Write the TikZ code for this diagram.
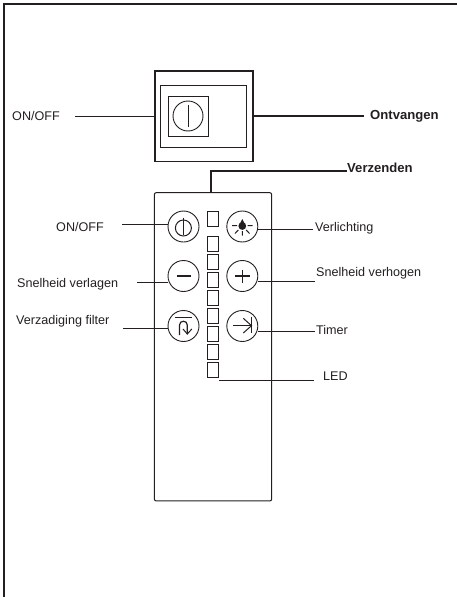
\documentclass[tikz,border=0pt]{standalone}
\usepackage{fontspec}
\setmainfont{Liberation Sans}
\usetikzlibrary{positioning, calc}
\definecolor{Ink}{HTML}{231F20}
\tikzset{
    label/.style={anchor=west, inner sep=0pt, text=Ink, font=\fontsize{12.6}{15}\selectfont},
    boldlabel/.style={label, font=\fontsize{13.1}{15}\selectfont\bfseries},
    button/.style={circle, draw=Ink, line width=0.9pt, inner sep=0pt, minimum size=31pt},
    ledbox/.style={rectangle, draw=Ink, line width=0.9pt, inner sep=0pt, minimum width=11.4pt, minimum height=15.2pt},
    thin line/.style={draw=Ink, line width=0.9pt},
    heavy line/.style={draw=Ink, line width=2pt},
    glyph/.style={draw=Ink, line width=1pt},
}

\begin{document}
\begin{tikzpicture}[x=1pt, y=-1pt]
        \useasboundingbox (0,0) rectangle (457,597);

        % --- Page frame ---
        \draw[draw=Ink, line width=2pt] (457,4) -- (3.7,4) -- (3.7,597);

        % --- Receiver ---
        \node[draw=Ink, line width=1.8pt, inner sep=0pt, minimum width=98.5pt, minimum height=90.5pt] (recv) at (204,116.3) {};
        \node[draw=Ink, line width=1pt, inner sep=0pt, minimum width=86pt, minimum height=61.5pt] (panel) at (203.7,116.5) {};
        \node[draw=Ink, line width=1pt, inner sep=0pt, minimum size=40pt] (switch) at (188.2,116.7) {};
        \node[circle, draw=Ink, line width=0.9pt, inner sep=0pt, minimum size=30pt] (dial) at (188,116) {};
        \draw[glyph] (188,105) -- (188,127);

        % --- Remote body ---
        \node[draw=Ink, line width=1pt, rounded corners=2pt, inner sep=0pt, minimum width=117.4pt, minimum height=308.3pt] (remote) at (213,346.8) {};

        % --- Buttons ---
        \node[button] (power)  at (183.5,226.5) {};
        \node[button] (light)  at (242.3,226.5) {};
        \node[button] (minus)  at (183.5,276) {};
        \node[button] (plus)   at (242.3,276) {};
        \node[button] (filter) at (183.5,326) {};
        \node[button] (timer)  at (242.3,326) {};

        % --- LEDs ---
        \node[ledbox] (led1) at (213,219) {};
        \node[ledbox] (led2) at (213,244.2) {};
        \node[ledbox] (led3) at (213,262) {};
        \node[ledbox] (led4) at (213,280) {};
        \node[ledbox] (led5) at (213,298) {};
        \node[ledbox] (led6) at (213,316) {};
        \node[ledbox] (led7) at (213,334) {};
        \node[ledbox] (led8) at (213,352) {};
        \node[ledbox] (led9) at (213,370) {};

        % Icons
        \draw[glyph] (183.4,228) circle (8);
        \draw[glyph] (183.4,217.5) -- (183.4,235);

        \fill[Ink] (242.3,226) circle (3.9);
        \fill[Ink] (240,223.5) -- (242.3,219) -- (244.6,223.5) -- cycle;
        \draw[glyph] (232,225.5) -- (237,225.5) (247.5,225.5) -- (252.5,225.5)
            (235,233.5) -- (238.3,230) (249.5,233.5) -- (246.2,230) (242.3,231) -- (242.3,235.5);

        \draw[draw=Ink, line width=1.6pt] (176.7,275.7) -- (190.5,275.7);
        \draw[draw=Ink, line width=1.3pt] (235,276) -- (250,276) (242.5,269.5) -- (242.5,283);

        \draw[glyph] (175,317.7) -- (192.3,317.7);
        \draw[draw=Ink, line width=1.2pt] (179.5,335) -- (179.5,325) .. controls (179.5,320) and (187.3,320) .. (187.3,325) -- (187.3,334);
        \draw[glyph] (183,329) -- (187.3,334) -- (191.8,329);

        \draw[glyph] (233.3,325.7) -- (251.5,325.7);
        \draw[glyph] (243.3,318.3) -- (251.5,325.7) -- (243.3,333);
        \draw[glyph] (251.7,316.7) -- (251.7,333.3);

        % --- Labels ---
        \node[label] (recvonoff) at (12,115.5) {ON/OFF};
        \node[boldlabel] (recvtext) at (370,116.5) {Ontvangen};
        \node[boldlabel] (sendtext) at (347,167.6) {Verzenden};
        \node[label] (poweronoff) at (56,226.7) {ON/OFF};
        \node[label] (lowtext) at (17,284) {Snelheid verlagen};
        \node[label] (filtertext) at (16,321) {Verzadiging filter};
        \node[label] (lighttext) at (315,228) {Verlichting};
        \node[label] (hightext) at (316,273) {Snelheid verhogen};
        \node[label] (timertext) at (316,330) {Timer};
        \node[label] (ledtext) at (323,376) {LED};

        % Free line ends
        \coordinate (recvend) at (75,116.5);
        \coordinate (recvoutend) at (364,116);
        \coordinate (sendcorner) at (211,171);
        \coordinate (powerend) at (122,224.3);
        \coordinate (lowend) at (137,282);
        \coordinate (filterend) at (123,328);
        \coordinate (lightend) at (313,229);
        \coordinate (highend) at (315,281);
        \coordinate (timerend) at (315,331);
        \coordinate (ledend) at (314,380);

        % --- Connectors ---
        \draw[thin line] (recvend) -- (recvend -| recv.west);
        \draw[heavy line] (recvoutend -| recv.east) -- (recvoutend);
        \draw[heavy line] (sendcorner |- remote.north) -- (sendcorner) -- (sendcorner -| sendtext.west);
        \draw[thin line] (powerend) -- (powerend -| power.west);
        \draw[thin line] (lowend) -- (lowend -| minus.west);
        \draw[thin line] (filterend) -- (filterend -| filter.west);
        \draw[thin line] (lightend -| light.east) -- (lightend);
        \draw[thin line] (highend -| plus.east) -- (highend);
        \draw[thin line] (timerend -| timer.east) -- (timerend);
        \draw[thin line] (ledend -| led9.east) -- (ledend);
    \end{tikzpicture}
\end{document}
